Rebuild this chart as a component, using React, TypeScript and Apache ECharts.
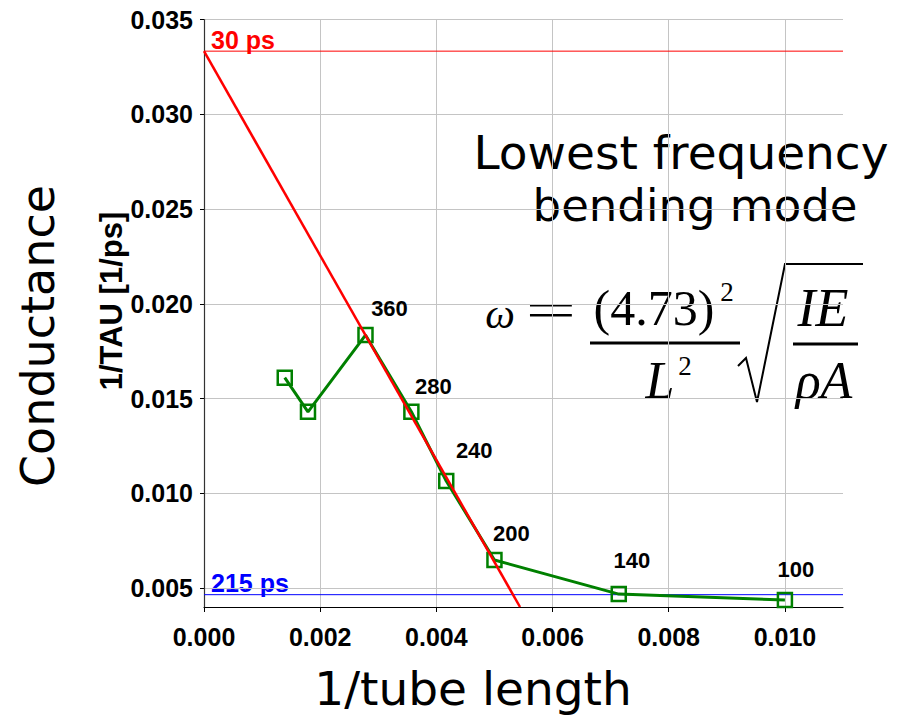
import React, { useEffect, useRef } from 'react';
import * as echarts from 'echarts';

// ---- data ----
const pointLabels = ['', '', '360', '280', '240', '200', '140', '100'];
const invLength = [0.00139, 0.00179, 0.00278, 0.00357, 0.00417, 0.005, 0.00714, 0.01];
const invTau = [0.0161, 0.0143, 0.01835, 0.0143, 0.01065, 0.00648, 0.00468, 0.00437];
const fitX = [0, 0.00544];
const fitY = [0.03333, 0.004];
const limit30ps = 0.03333;
const limit215ps = 0.00465;
const xTicks = [0, 0.002, 0.004, 0.006, 0.008, 0.01];
const yTicks = [0.005, 0.01, 0.015, 0.02, 0.025, 0.03, 0.035];
const xRange = [0, 0.011];
const yRange = [0.004, 0.035];

// ---- style only ----
const labelOffsets = [[0, 0], [0, 0], [24, -2], [22, -1], [28, -6], [17, -2], [13, -9], [11, -6]];
const narrowBold = "'Liberation Sans Narrow', 'Liberation Sans', Arial, sans-serif";
const serif = "'Liberation Serif', 'Times New Roman', serif";
const sans = "'DejaVu Sans', Verdana, sans-serif";

export default function App() {
  const ref = useRef<HTMLDivElement>(null);
  useEffect(() => {
    const chart = echarts.init(ref.current!, null, { renderer: 'svg' });
    const greenData = invLength.map((x, i) => ({
      value: [x, invTau[i]],
      label: { offset: labelOffsets[i] },
    }));
    const txt = (text: string, x: number, y: number, s: any, extra: any = {}) => ({
      type: 'text', x, y, ...extra,
      style: { text, fill: '#000', align: 'center', verticalAlign: 'middle', ...s },
    });
    chart.setOption({
      animation: false,
      backgroundColor: '#fff',
      grid: { left: 204, right: 68, top: 19.5, bottom: 110, containLabel: false },
      xAxis: {
        type: 'value', min: xRange[0], max: xRange[1],
        axisLine: { show: true, onZero: false, lineStyle: { color: '#000', width: 1.2 } },
        axisTick: { show: true, length: 5, customValues: xTicks, lineStyle: { color: '#000' } },
        axisLabel: {
          customValues: xTicks, margin: 17,
          formatter: (v: number) => v.toFixed(3),
          fontFamily: narrowBold, fontWeight: 'bold', fontSize: 25, color: '#000',
        },
        splitLine: { show: true, lineStyle: { color: '#c4c4c4', width: 1 } },
      },
      yAxis: {
        type: 'value', min: yRange[0], max: yRange[1],
        axisLine: { show: true, onZero: false, lineStyle: { color: '#333', width: 1.2 } },
        axisTick: { show: true, length: 4, customValues: yTicks, lineStyle: { color: '#000' } },
        axisLabel: {
          customValues: yTicks, margin: 11,
          formatter: (v: number) => v.toFixed(3),
          fontFamily: narrowBold, fontWeight: 'bold', fontSize: 25, color: '#000',
        },
        splitLine: { show: true, lineStyle: { color: '#c4c4c4', width: 1 } },
      },
      series: [
        {
          type: 'line', name: '30 ps', z: 2, symbol: 'none', silent: true,
          data: [[xRange[0], limit30ps], [xRange[1], limit30ps]],
          lineStyle: { color: '#ff0000', width: 1 },
        },
        {
          type: 'line', name: '215 ps', z: 2, symbol: 'none', silent: true,
          data: [[xRange[0], limit215ps], [xRange[1], limit215ps]],
          lineStyle: { color: '#0000ff', width: 1 },
        },
        {
          type: 'line', name: 'measured', z: 3,
          data: greenData,
          symbol: 'rect', symbolSize: 14,
          itemStyle: { color: 'rgba(0,0,0,0)', borderColor: '#008000', borderWidth: 2.5 },
          lineStyle: { color: '#008000', width: 3 },
          label: {
            show: true, position: 'top', align: 'center',
            formatter: (p: any) => pointLabels[p.dataIndex],
            fontFamily: narrowBold, fontWeight: 'bold', fontSize: 22, color: '#000',
          },
        },
        {
          type: 'line', name: 'fit', z: 4, symbol: 'none',
          data: fitX.map((x, i) => [x, fitY[i]]),
          lineStyle: { color: '#ff0000', width: 2.5 },
        },
      ],
      graphic: [
        txt('30 ps', 211, 40, { fill: '#ff0000', align: 'left', fontFamily: narrowBold, fontWeight: 'bold', fontSize: 25 }),
        txt('215 ps', 211, 583, { fill: '#0000ff', align: 'left', fontFamily: narrowBold, fontWeight: 'bold', fontSize: 25 }),
        txt('Conductance', 38, 336, { fontFamily: sans, fontSize: 46 }, { rotation: Math.PI / 2 }),
        txt('1/TAU [1/ps]', 111, 301, { fontFamily: "'Liberation Sans', Arial, sans-serif", fontWeight: 'bold', fontSize: 31 }, { rotation: Math.PI / 2 }),
        txt('1/tube length', 473, 688, { fontFamily: sans, fontSize: 47 }),
        txt('Lowest frequency', 681, 152, { fontFamily: sans, fontSize: 47 }),
        txt('bending mode', 695, 205, { fontFamily: sans, fontSize: 45 }),
        // formula
        txt('ω', 500, 314, { fontFamily: serif, fontStyle: 'italic', fontSize: 42 }),
        txt('=', 551, 310, { fontFamily: serif, fontSize: 50 }, { scaleX: 1.8 }),
        txt('(4.73)', 654, 308, { fontFamily: serif, fontSize: 50 }),
        txt('2', 727, 292, { fontFamily: serif, fontSize: 27 }),
        { type: 'rect', shape: { x: 590, y: 341.5, width: 150, height: 3 }, style: { fill: '#000' } },
        txt('L', 660, 380, { fontFamily: serif, fontStyle: 'italic', fontSize: 52 }),
        txt('2', 685, 366, { fontFamily: serif, fontSize: 27 }),
        {
          type: 'polyline',
          shape: { points: [[738, 366], [746, 358], [757, 402], [785, 264], [863, 264]] },
          style: { stroke: '#000', lineWidth: 2, fill: null },
        },
        txt('IE', 823, 308, { fontFamily: serif, fontStyle: 'italic', fontSize: 54 }),
        { type: 'rect', shape: { x: 793, y: 342.5, width: 65, height: 3 }, style: { fill: '#000' } },
        txt('ρA', 824, 380, { fontFamily: serif, fontStyle: 'italic', fontSize: 52 }),
      ],
    });
    return () => chart.dispose();
  }, []);
  return (
    <div
      ref={ref}
      style={{ position: 'fixed', left: 0, top: 0, width: 911, height: 717, background: '#fff' }}
    />
  );
}
